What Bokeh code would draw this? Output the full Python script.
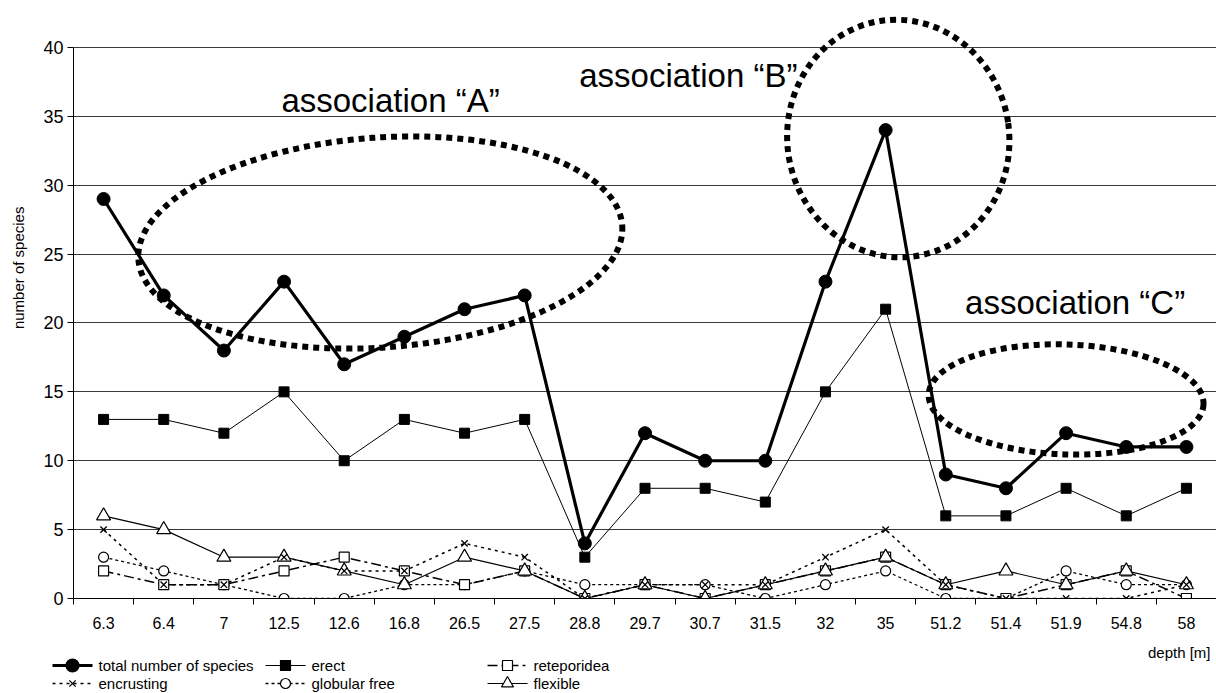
import math
from bokeh.plotting import figure
from bokeh.models import Range1d, FixedTicker
from bokeh.layouts import column, row
from bokeh.embed import file_html
from bokeh.resources import INLINE
from bokeh.core.properties import value

# ---------------- data ----------------
depths = ["6.3", "6.4", "7", "12.5", "12.6", "16.8", "26.5", "27.5", "28.8", "29.7",
          "30.7", "31.5", "32", "35", "51.2", "51.4", "51.9", "54.8", "58"]
total = [29, 22, 18, 23, 17, 19, 21, 22, 4, 12, 10, 10, 23, 34, 9, 8, 12, 11, 11]
erect = [13, 13, 12, 15, 10, 13, 12, 13, 3, 8, 8, 7, 15, 21, 6, 6, 8, 6, 8]
reteporidea = [2, 1, 1, 2, 3, 2, 1, 2, 0, 1, 0, 1, 2, 3, 1, 0, 1, 2, 0]
encrusting = [5, 1, 1, 3, 2, 2, 4, 3, 0, 1, 1, 1, 3, 5, 1, 0, 0, 0, 1]
globular = [3, 2, 1, 0, 0, 1, 1, 2, 1, 1, 1, 0, 1, 2, 0, 0, 2, 1, 1]
flexible = [6, 5, 3, 3, 2, 1, 3, 2, 0, 1, 0, 1, 2, 3, 1, 2, 1, 2, 1]

y_ticks = [0, 5, 10, 15, 20, 25, 30, 35, 40]
legend_names = ["total number of species", "erect", "reteporidea",
                "encrusting", "globular free", "flexible"]
assoc_names = ["association \u201cA\u201d", "association \u201cB\u201d", "association \u201cC\u201d"]

FONT = "Liberation Sans"
xs = [i + 0.5 for i in range(len(depths))]

# ---------------- y-label strip ----------------
yl = figure(width=28, height=640, output_backend="svg", toolbar_location=None,
            x_range=Range1d(0, 28), y_range=Range1d(0, 640), min_border=0,
            x_axis_type=None, y_axis_type=None)
yl.grid.grid_line_color = None
yl.outline_line_color = None
yl.text([18], [363], text=["number of species"], angle=math.pi / 2,
        text_font=value(FONT), text_font_size="15px", text_align="center",
        text_baseline="middle", text_color="black")

# ---------------- main plot ----------------
p = figure(width=1188, height=640, output_backend="svg", toolbar_location=None,
           x_range=Range1d(0, 19.0), y_range=Range1d(0, 42.32),
           min_border_left=45, min_border_right=0, min_border_top=15, min_border_bottom=42)
p.outline_line_color = None

p.xaxis.ticker = FixedTicker(ticks=xs, minor_ticks=list(range(0, 20)))
p.xaxis.major_label_overrides = {x: d for x, d in zip(xs, depths)}
p.xaxis.major_tick_out = 0
p.xaxis.major_tick_in = 0
p.xaxis.minor_tick_out = 6
p.xaxis.minor_tick_in = 0
p.xaxis.minor_tick_line_color = "black"
p.xaxis.axis_line_color = "black"
p.xaxis.major_label_text_font = FONT
p.xaxis.major_label_text_font_size = "16px"
p.xaxis.major_label_text_color = "black"
p.xaxis.major_label_standoff = 12

p.yaxis.ticker = FixedTicker(ticks=y_ticks)
p.yaxis.bounds = (0, 40)
p.yaxis.major_tick_out = 6
p.yaxis.major_tick_in = 0
p.yaxis.minor_tick_line_color = None
p.yaxis.axis_line_color = "black"
p.yaxis.major_label_text_font = FONT
p.yaxis.major_label_text_font_size = "18px"
p.yaxis.major_label_text_color = "black"
p.yaxis.major_label_standoff = 4

p.xgrid.grid_line_color = None
p.ygrid.ticker = FixedTicker(ticks=y_ticks[1:])
p.ygrid.grid_line_color = "#3a3a3a"
p.ygrid.grid_line_width = 1

# series lines
p.line(xs, globular, line_color="black", line_width=1.3, line_dash="3 3")
p.line(xs, reteporidea, line_color="black", line_width=1.5, line_dash="10 4 3 4")
p.line(xs, flexible, line_color="black", line_width=1.2)
p.line(xs, encrusting, line_color="black", line_width=1.5, line_dash="3 4")
p.line(xs, erect, line_color="black", line_width=1)
p.line(xs, total, line_color="black", line_width=3.2)

# markers
p.scatter(xs, globular, marker="circle", size=10, line_color="black", fill_color="white", line_width=1.2)
p.scatter(xs, reteporidea, marker="square", size=10, line_color="black", fill_color="white", line_width=1.2)
p.scatter(xs, flexible, marker="triangle", size=14, line_color="black", fill_color="white", line_width=1.2)
p.scatter(xs, encrusting, marker="x", size=9, line_color="black", line_width=1.3)
p.scatter(xs, erect, marker="square", size=10, line_color="black", fill_color="black")
p.scatter(xs, total, marker="circle", size=13, line_color="black", fill_color="black")

# association ellipses (annotation)
ell = dict(fill_color=None, line_color="black", line_width=6, line_dash="6 5",
           width_units="screen", height_units="screen")
p.ellipse(x=[5.10], y=[25.84], width=[485], height=[210], angle=[math.radians(4)], **ell)
p.ellipse(x=[13.71], y=[33.39], width=[222], height=[238], angle=[math.radians(8)], **ell)
p.ellipse(x=[16.50], y=[14.45], width=[275], height=[110], angle=[math.radians(-2)], **ell)

p.text([5.27, 10.22, 16.65], [36.15, 37.97, 21.49], text=assoc_names,
       text_font=value(FONT), text_font_size="33px", text_align="center",
       text_baseline="middle", text_color="black")

# ---------------- legend strip ----------------
lg = figure(width=1216, height=53, output_backend="svg", toolbar_location=None,
            x_range=Range1d(0, 1216), y_range=Range1d(0, 53), min_border=0,
            x_axis_type=None, y_axis_type=None)
lg.grid.grid_line_color = None
lg.outline_line_color = None

lg.text([1210], [41], text=["depth [m]"], text_font=value(FONT), text_font_size="15px",
        text_align="right", text_baseline="middle", text_color="black")

styles = [
    (dict(line_width=3.2), dict(marker="circle", size=13, fill_color="black")),
    (dict(line_width=1), dict(marker="square", size=10, fill_color="black")),
    (dict(line_width=1.5, line_dash="10 4 3 4"), dict(marker="square", size=10, fill_color="white")),
    (dict(line_width=1.5, line_dash="3 4"), dict(marker="x", size=9)),
    (dict(line_width=1.3, line_dash="3 3"), dict(marker="circle", size=10, fill_color="white")),
    (dict(line_width=1.2), dict(marker="triangle", size=12, fill_color="white")),
]
col_x = [52, 265, 487]
row_y = [28, 10]
for k, (name, (lstyle, mstyle)) in enumerate(zip(legend_names, styles)):
    cx = col_x[k % 3]
    cy = row_y[k // 3]
    lg.line([cx, cx + 40], [cy, cy], line_color="black", **lstyle)
    lg.scatter([cx + 20], [cy], line_color="black", line_width=1.2, **mstyle)
    lg.text([cx + 46], [cy], text=[name], text_font=value(FONT), text_font_size="15px",
            text_baseline="middle", text_align="left", text_color="black")

layout = column(row(yl, p, spacing=0), lg, spacing=0)
open("out.html", "w").write(file_html(layout, INLINE))
